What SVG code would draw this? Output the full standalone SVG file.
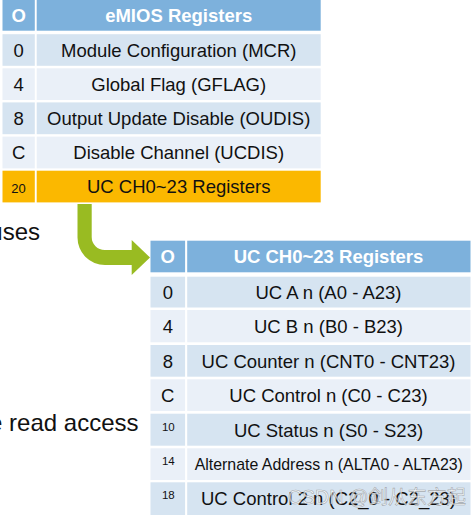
<svg xmlns="http://www.w3.org/2000/svg" width="475" height="516" viewBox="0 0 475 516">
<style>
.hd{fill:#7db1dc}
.dk{fill:#d6e4f1}
.lt{fill:#eaf0f8}
.or{fill:#fbb800}
text{font-family:"Liberation Sans",Arial,sans-serif;fill:#111;text-anchor:middle}
.ht{font-weight:bold;fill:#fff;font-size:18.5px}
.t{font-size:18.5px}
.s{font-size:11.5px}
.side{font-size:24px;text-anchor:end}
</style>
<rect width="475" height="516" fill="#fff"/>
<text class="side" x="40" y="240">uses</text>
<text class="side" x="138.5" y="431">e read access</text>
<g id="emios-registers">
<g id="emios-header"><rect class="hd" x="2.5" y="0" width="32.3" height="30.7"/><rect class="hd" x="36.7" y="0" width="284" height="30.7"/><text class="ht" x="18.6" y="22">O</text><text class="ht" x="178.7" y="22">eMIOS Registers</text></g>
<g id="emios-mcr"><rect class="dk" x="2.5" y="34.2" width="32.3" height="31.6"/><rect class="dk" x="36.7" y="34.2" width="284" height="31.6"/><text class="t" x="18.6" y="56.7">0</text><text class="t" x="178.7" y="56.7">Module Configuration (MCR)</text></g>
<g id="emios-gflag"><rect class="lt" x="2.5" y="68.3" width="32.3" height="31.7"/><rect class="lt" x="36.7" y="68.3" width="284" height="31.7"/><text class="t" x="18.6" y="90.8">4</text><text class="t" x="178.7" y="90.8">Global Flag (GFLAG)</text></g>
<g id="emios-oudis"><rect class="dk" x="2.5" y="102.4" width="32.3" height="31.8"/><rect class="dk" x="36.7" y="102.4" width="284" height="31.8"/><text class="t" x="18.6" y="124.9">8</text><text class="t" x="178.7" y="124.9">Output Update Disable (OUDIS)</text></g>
<g id="emios-ucdis"><rect class="lt" x="2.5" y="136.6" width="32.3" height="31.8"/><rect class="lt" x="36.7" y="136.6" width="284" height="31.8"/><text class="t" x="18.6" y="159.1">C</text><text class="t" x="178.7" y="159.1">Disable Channel (UCDIS)</text></g>
<g id="emios-uc"><rect class="or" x="2.5" y="170.7" width="32.3" height="31.7"/><rect class="or" x="36.7" y="170.7" width="284" height="31.7"/><text x="18.6" y="192.5" style="font-size:13px">20</text><text class="t" x="178.7" y="193.2">UC CH0~23 Registers</text></g>
</g>
<g id="connectors">
<path d="M77.5,204 L91.7,204 L91.7,237 A13,13 0 0 0 104.7,250 L131.7,250 L131.7,240 L150,257.5 L131.7,275 L131.7,265 L105,265 A27.5,27.5 0 0 1 77.5,237.5 Z" fill="#99bb22"/>
</g>
<g id="uc-registers">
<g id="uc-header"><rect class="hd" x="150.5" y="240.7" width="34.6" height="31.6"/><rect class="hd" x="187.2" y="240.7" width="283.3" height="31.6"/><text class="ht" x="167.8" y="263">O</text><text class="ht" x="328.5" y="263">UC CH0~23 Registers</text></g>
<g id="uc-a"><rect class="dk" x="150.5" y="276.7" width="34.6" height="30.8"/><rect class="dk" x="187.2" y="276.7" width="283.3" height="30.8"/><text class="t" x="167.8" y="298.8">0</text><text class="t" x="328.5" y="298.8">UC A n (A0 - A23)</text></g>
<g id="uc-b"><rect class="lt" x="150.5" y="310" width="34.6" height="32.3"/><rect class="lt" x="187.2" y="310" width="283.3" height="32.3"/><text class="t" x="167.8" y="332.8">4</text><text class="t" x="328.5" y="332.8">UC B n (B0 - B23)</text></g>
<g id="uc-cnt"><rect class="dk" x="150.5" y="345" width="34.6" height="31.7"/><rect class="dk" x="187.2" y="345" width="283.3" height="31.7"/><text class="t" x="167.8" y="367.5">8</text><text class="t" x="328.5" y="367.5">UC Counter n (CNT0 - CNT23)</text></g>
<g id="uc-c"><rect class="lt" x="150.5" y="379.3" width="34.6" height="31.7"/><rect class="lt" x="187.2" y="379.3" width="283.3" height="31.7"/><text class="t" x="167.8" y="401.8">C</text><text class="t" x="328.5" y="401.8">UC Control n (C0 - C23)</text></g>
<g id="uc-s"><rect class="dk" x="150.5" y="413.7" width="34.6" height="32"/><rect class="dk" x="187.2" y="413.7" width="283.3" height="32"/><text class="s" x="168.3" y="430.7">10</text><text class="t" x="328.5" y="436.5">UC Status n (S0 - S23)</text></g>
<g id="uc-alta"><rect class="lt" x="150.5" y="448.3" width="34.6" height="31.7"/><rect class="lt" x="187.2" y="448.3" width="283.3" height="31.7"/><text class="s" x="168.3" y="465">14</text><text x="328.8" y="469.7" style="font-size:15.9px">Alternate Address n (ALTA0 - ALTA23)</text></g>
<g id="uc-c2"><rect class="dk" x="150.5" y="482.3" width="34.6" height="32.7"/><rect class="dk" x="187.2" y="482.3" width="283.3" height="32.7"/><text class="s" x="168.3" y="499.3">18</text><text class="t" x="328.5" y="505">UC Control 2 n (C2_0 - C2_23)</text></g>
</g>
<text x="377" y="504" style="font-size:19.5px;font-family:'Liberation Sans','Noto Sans CJK SC',sans-serif;fill:#fff;fill-opacity:0.7;stroke:#777;stroke-width:0.6;stroke-opacity:0.6">CSDN @剑从东方起</text>
</svg>
